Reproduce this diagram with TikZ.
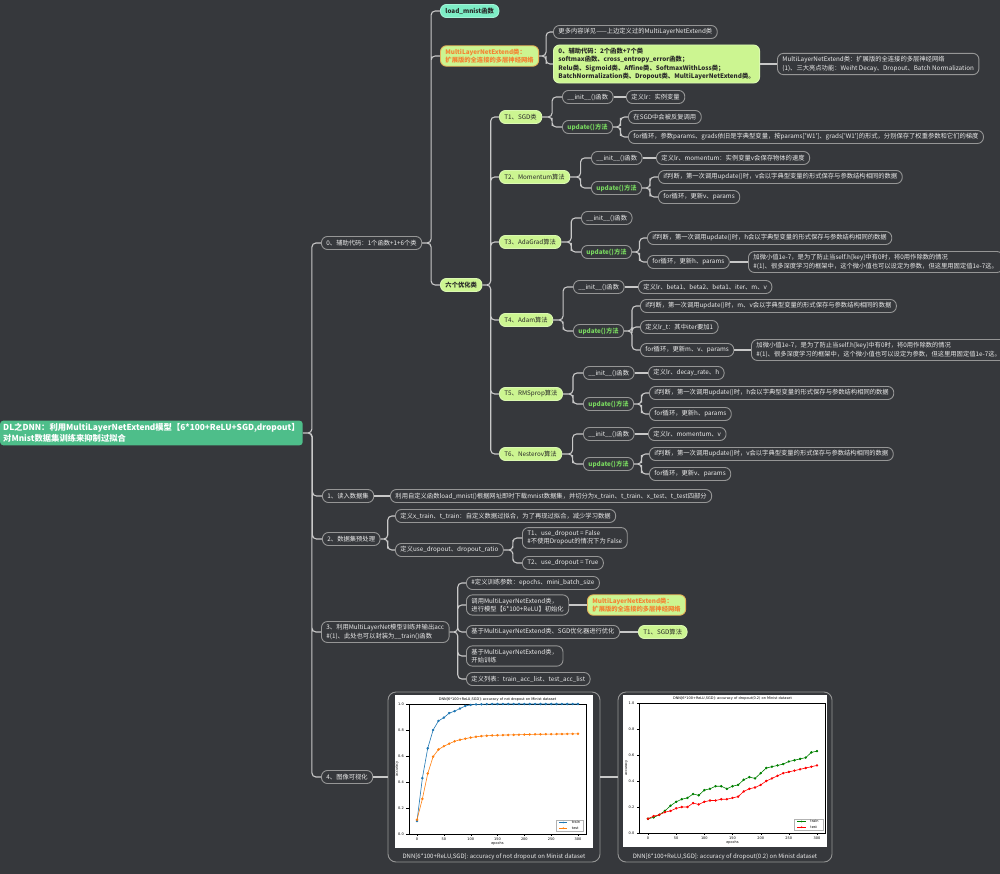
\documentclass[tikz,border=0pt]{standalone}
\usepackage{fontspec}
\setmainfont{Noto Sans CJK SC}
\newfontfamily\plotfont{DejaVu Sans}
\usetikzlibrary{calc}

\definecolor{bgdark}{RGB}{54,56,60}
\definecolor{linegray}{RGB}{200,200,200}
\definecolor{boxgray}{RGB}{150,150,150}
\definecolor{nodewhite}{RGB}{235,235,235}
\definecolor{rootgreen}{RGB}{78,190,138}
\definecolor{mint}{RGB}{125,238,198}
\definecolor{lightgreen}{RGB}{204,245,145}
\definecolor{orangetext}{RGB}{245,130,50}
\definecolor{methodgreen}{RGB}{120,215,95}
\definecolor{darktext}{RGB}{40,40,40}
\definecolor{mplblue}{RGB}{31,119,180}
\definecolor{mplorange}{RGB}{255,127,14}
\definecolor{mplgreen}{RGB}{0,128,0}

\begin{document}
\begin{tikzpicture}[x=1pt, y=-1pt,
  darknode/.style={draw=boxgray, fill=bgdark, text=nodewhite, rounded corners=6pt,
                   line width=0.9pt, anchor=west, align=left, inner xsep=5pt, inner ysep=3pt,
                   minimum height=13pt, font=\fontsize{6.3}{8.4}\selectfont},
  methodnode/.style={darknode, text=methodgreen, font=\bfseries\fontsize{6.3}{8.4}\selectfont},
  greennode/.style={darknode, draw=lightgreen!70!white, fill=lightgreen, text=darktext},
  boldgreennode/.style={greennode, font=\bfseries\fontsize{6.3}{8.4}\selectfont},
  classnode/.style={boldgreennode, draw=orangetext!60!lightgreen, text=orangetext},
  mintnode/.style={boldgreennode, draw=mint!70!white, fill=mint},
  rootnode/.style={fill=rootgreen, text=white, rounded corners=3pt, anchor=west, align=left,
                   inner xsep=3pt, inner ysep=3pt, font=\bfseries\fontsize{8.3}{10.5}\selectfont},
  imgnode/.style={draw=boxgray, fill=bgdark, rounded corners=8pt, line width=0.9pt},
  captext/.style={text=nodewhite, font=\fontsize{6}{7}\selectfont},
  straightline/.style={draw=linegray, line width=1.1pt},
  branchline/.style={straightline, rounded corners=4pt,
    to path={(\tikztostart.east) -| ($(\tikztostart.east)!0.5!(\tikztotarget.west)$) |- (\tikztotarget.west)}},
]
\fill[bgdark] (0,0) rectangle (1000,874);
\useasboundingbox (0,0) rectangle (1000,874);

% ── Root ───────────────────────────────────────────────────────────────
\node[rootnode] (root) at (0,433) {DL之DNN：利用MultiLayerNetExtend模型【6*100+ReLU+SGD,dropout】\\对Mnist数据集训练来抑制过拟合};

% ── 0: auxiliary code ─────────────────────────────────────────────────
\node[darknode] (aux)  at (321,243) {0、辅助代码：1个函数+1+6个类};
\node[mintnode] (load) at (440,11)  {load\_mnist函数};
\node[classnode] (mlne) at (440,56) {MultiLayerNetExtend类：\\扩展版的全连接的多层神经网络};
\node[darknode] (mlneMore) at (553,32) {更多内容详见——上边定义过的MultiLayerNetExtend类};
\node[boldgreennode] (mlneAux) at (553,64) {0、辅助代码：2个函数+7个类\\softmax函数、cross\_entropy\_error函数；\\Relu类、Sigmoid类、Affine类、SoftmaxWithLoss类；\\BatchNormalization类、Dropout类、MultiLayerNetExtend类。};
\node[darknode] (mlneNote) at (777,64) {MultiLayerNetExtend类：扩展版的全连接的多层神经网络\\(1)、三大亮点功能：Weiht Decay、Dropout、Batch Normalization};
\node[boldgreennode] (opt) at (440,285) {六个优化类};

% ── T1 SGD ─────────────────────────────────────────────────────────────
\node[greennode]  (sgd)      at (499,117) {T1、SGD类};
\node[darknode]   (sgdInit)  at (562,97)  {\_\_init\_\_()函数};
\node[darknode]   (sgdInitV) at (626,97)  {定义lr：实例变量};
\node[methodnode] (sgdUpd)   at (562,127) {update()方法};
\node[darknode]   (sgdUpdA)  at (628,117) {在SGD中会被反复调用};
\node[darknode]   (sgdUpdB)  at (628,137) {for循环，参数params、grads依旧是字典型变量，按params[\textquotesingle W1\textquotesingle]、grads[\textquotesingle W1\textquotesingle]的形式，分别保存了权重参数和它们的梯度};

% ── T2 Momentum ────────────────────────────────────────────────────────
\node[greennode]  (mom)      at (499,177) {T2、Momentum算法};
\node[darknode]   (momInit)  at (591,158) {\_\_init\_\_()函数};
\node[darknode]   (momInitV) at (656,158) {定义lr、momentum：实例变量v会保存物体的速度};
\node[methodnode] (momUpd)   at (591,188) {update()方法};
\node[darknode]   (momUpdA)  at (658,177) {if判断，第一次调用update()时，v会以字典型变量的形式保存与参数结构相同的数据};
\node[darknode]   (momUpdB)  at (658,197) {for循环，更新v、params};

% ── T3 AdaGrad ─────────────────────────────────────────────────────────
\node[greennode]  (ada)      at (499,242) {T3、AdaGrad算法};
\node[darknode]   (adaInit)  at (581,218) {\_\_init\_\_()函数};
\node[methodnode] (adaUpd)   at (581,252) {update()方法};
\node[darknode]   (adaUpdA)  at (647,238) {if判断，第一次调用update()时，h会以字典型变量的形式保存与参数结构相同的数据};
\node[darknode]   (adaUpdB)  at (647,262) {for循环，更新h、params};
\node[darknode]   (adaNote)  at (748,262) {加微小值1e-7，是为了防止当self.h[key]中有0时，将0用作除数的情况\\\#(1)、很多深度学习的框架中，这个微小值也可以设定为参数，但这里用固定值1e-7这。};

% ── T4 Adam ────────────────────────────────────────────────────────────
\node[greennode]  (adam)      at (499,320) {T4、Adam算法};
\node[darknode]   (adamInit)  at (573,287) {\_\_init\_\_()函数};
\node[darknode]   (adamInitV) at (638,287) {定义lr、beta1、beta2、beta1、iter、m、v};
\node[methodnode] (adamUpd)   at (573,331) {update()方法};
\node[darknode]   (adamUpdA)  at (640,306) {if判断，第一次调用update()时，m、v会以字典型变量的形式保存与参数结构相同的数据};
\node[darknode]   (adamUpdB)  at (640,327) {定义lr\_t：其中iter要加1};
\node[darknode]   (adamUpdC)  at (640,350) {for循环，更新m、v、params};
\node[darknode]   (adamNote)  at (751,350) {加微小值1e-7，是为了防止当self.h[key]中有0时，将0用作除数的情况\\\#(1)、很多深度学习的框架中，这个微小值也可以设定为参数，但这里用固定值1e-7这。};

% ── T5 RMSprop ─────────────────────────────────────────────────────────
\node[greennode]  (rms)      at (499,394) {T5、RMSprop算法};
\node[darknode]   (rmsInit)  at (583,373) {\_\_init\_\_()函数};
\node[darknode]   (rmsInitV) at (648,373) {定义lr、decay\_rate、h};
\node[methodnode] (rmsUpd)   at (583,404) {update()方法};
\node[darknode]   (rmsUpdA)  at (649,393) {if判断，第一次调用update()时，h会以字典型变量的形式保存与参数结构相同的数据};
\node[darknode]   (rmsUpdB)  at (649,414) {for循环，更新h、params};

% ── T6 Nesterov ────────────────────────────────────────────────────────
\node[greennode]  (nes)      at (499,454) {T6、Nesterov算法};
\node[darknode]   (nesInit)  at (583,434) {\_\_init\_\_()函数};
\node[darknode]   (nesInitV) at (648,434) {定义lr、momentum、v};
\node[methodnode] (nesUpd)   at (583,464) {update()方法};
\node[darknode]   (nesUpdA)  at (649,454) {if判断，第一次调用update()时，v会以字典型变量的形式保存与参数结构相同的数据};
\node[darknode]   (nesUpdB)  at (649,474) {for循环，更新v、params};

% ── 1: read data ───────────────────────────────────────────────────────
\node[darknode] (read)  at (322,496) {1、读入数据集};
\node[darknode] (readV) at (390,496) {利用自定义函数load\_mnist()根据网址即时下载mnist数据集，并切分为x\_train、t\_train、x\_test、t\_test四部分};

% ── 2: preprocessing ───────────────────────────────────────────────────
\node[darknode] (prep)   at (322,539) {2、数据集预处理};
\node[darknode] (prepA)  at (395,516) {定义x\_train、t\_train：自定义数据过拟合，为了再现过拟合，减少学习数据};
\node[darknode] (prepB)  at (395,550) {定义use\_dropout、dropout\_ratio};
\node[darknode] (prepBa) at (522,538) {T1、use\_dropout = False\\\#不使用Dropout的情况下为 False};
\node[darknode] (prepBb) at (522,563) {T2、use\_dropout = True};

% ── 3: training ────────────────────────────────────────────────────────
\node[darknode] (train)   at (321,632) {3、利用MultiLayerNet模型训练并输出acc\\\#(1)、此处也可以封装为\_\_train()函数};
\node[darknode] (trainA)  at (466,583) {\#定义训练参数：epochs、mini\_batch\_size};
\node[darknode] (trainB)  at (466,605) {调用MultiLayerNetExtend类，\\进行模型【6*100+ReLU】初始化};
\node[classnode] (trainBN) at (587,605) {MultiLayerNetExtend类：\\扩展版的全连接的多层神经网络};
\node[darknode] (trainC)  at (466,632) {基于MultiLayerNetExtend类、SGD优化器进行优化};
\node[greennode] (trainCN) at (638,632) {T1、SGD算法};
\node[darknode] (trainD)  at (466,656) {基于MultiLayerNetExtend类，\\开始训练};
\node[darknode] (trainE)  at (466,679) {定义列表：train\_acc\_list、test\_acc\_list};

% ── 4: visualisation ───────────────────────────────────────────────────
\node[darknode] (vis) at (321,777) {4、图像可视化};
\node[imgnode, minimum width=212pt, minimum height=170pt] (imgA) at (494,777) {};
\node[imgnode, minimum width=214pt, minimum height=170pt] (imgB) at (725,777) {};
\node[captext] (capA) at (494,857) {DNN[6*100+ReLU,SGD]: accuracy of not dropout on Minist dataset};
\node[captext] (capB) at (725,857) {DNN[6*100+ReLU,SGD]: accuracy of dropout(0.2) on Minist dataset};

% ── Connectors ─────────────────────────────────────────────────────────
\draw[branchline] (root) to (aux) (root) to (read) (root) to (prep) (root) to (train) (root) to (vis);
\draw[branchline] (aux) to (load) (aux) to (mlne) (aux) to (opt);
\draw[branchline] (mlne) to (mlneMore) (mlne) to (mlneAux);
\draw[branchline] (opt) to (sgd) (opt) to (mom) (opt) to (ada) (opt) to (adam) (opt) to (rms) (opt) to (nes);
\draw[branchline] (sgd) to (sgdInit) (sgd) to (sgdUpd) (sgdUpd) to (sgdUpdA) (sgdUpd) to (sgdUpdB);
\draw[branchline] (mom) to (momInit) (mom) to (momUpd) (momUpd) to (momUpdA) (momUpd) to (momUpdB);
\draw[branchline] (ada) to (adaInit) (ada) to (adaUpd) (adaUpd) to (adaUpdA) (adaUpd) to (adaUpdB);
\draw[branchline] (adam) to (adamInit) (adam) to (adamUpd) (adamUpd) to (adamUpdA) (adamUpd) to (adamUpdB) (adamUpd) to (adamUpdC);
\draw[branchline] (rms) to (rmsInit) (rms) to (rmsUpd) (rmsUpd) to (rmsUpdA) (rmsUpd) to (rmsUpdB);
\draw[branchline] (nes) to (nesInit) (nes) to (nesUpd) (nesUpd) to (nesUpdA) (nesUpd) to (nesUpdB);
\draw[branchline] (prep) to (prepA) (prep) to (prepB) (prepB) to (prepBa) (prepB) to (prepBb);
\draw[branchline] (train) to (trainA) (train) to (trainB) (train) to (trainC) (train) to (trainD) (train) to (trainE);

% same-level links
\draw[straightline] (mlneAux.east) -- (mlneNote.west);
\draw[straightline] (sgdInit.east) -- (sgdInitV.west);
\draw[straightline] (momInit.east) -- (momInitV.west);
\draw[straightline] (adaUpdB.east) -- (adaNote.west);
\draw[straightline] (adamInit.east) -- (adamInitV.west);
\draw[straightline] (adamUpdC.east) -- (adamNote.west);
\draw[straightline] (rmsInit.east) -- (rmsInitV.west);
\draw[straightline] (nesInit.east) -- (nesInitV.west);
\draw[straightline] (read.east) -- (readV.west);
\draw[straightline] (trainB.east) -- (trainBN.west);
\draw[straightline] (trainC.east) -- (trainCN.west);
\draw[straightline] (vis.east) -- (imgA.west);
\draw[straightline] (imgA.east) -- (imgB.west);

% ── Chart A: without dropout ──────────────────────────────────────────
\fill[white] (395,695) rectangle (593,848);
\begin{scope}[shift={(417,834)}, x=0.5367pt, y=130pt, font=\plotfont\fontsize{3.5}{4}\selectfont]
  \draw[line width=0.3pt] (-15,0) rectangle (315,1);
  \foreach \t in {0,50,...,300} \draw[line width=0.3pt] (\t,0) -- (\t,-0.012) node[below=-1pt] {\t};
  \foreach \v in {0.0,0.2,0.4,0.6,0.8,1.0} \draw[line width=0.3pt] (-15,\v) -- (-20,\v) node[left=-1pt] {\v};
  \node[above=-1pt] at (150,1) {DNN[6*100+ReLU,SGD]: accuracy of not dropout on Minist dataset};
  \node at (150,-0.075) {epochs};
  \node[rotate=90] at (-37,0.5) {accuracy};
  \draw[mplblue, line width=0.6pt] plot[mark=*, mark size=0.9pt] coordinates {
    (0,0.10) (10,0.43) (20,0.66) (30,0.80) (40,0.87) (50,0.895) (60,0.93) (70,0.945)
    (80,0.965) (90,0.985) (100,0.993) (110,0.997) (120,0.998) (130,0.999) (140,1) (150,1)
    (160,1) (170,1) (180,1) (190,1) (200,1) (210,1) (220,1) (230,1) (240,1) (250,1)
    (260,1) (270,1) (280,1) (290,1) (300,1)};
  \draw[mplorange, line width=0.6pt] plot[mark=*, mark size=0.9pt] coordinates {
    (0,0.11) (10,0.27) (20,0.465) (30,0.595) (40,0.65) (50,0.675) (60,0.695) (70,0.713)
    (80,0.725) (90,0.733) (100,0.742) (110,0.748) (120,0.753) (130,0.756) (140,0.758)
    (150,0.760) (160,0.761) (170,0.762) (180,0.763) (190,0.764) (200,0.765) (210,0.766)
    (220,0.767) (230,0.767) (240,0.768) (250,0.768) (260,0.769) (270,0.769) (280,0.770)
    (290,0.770) (300,0.771)};
  \draw[line width=0.2pt, draw=black!30, fill=white] (260,0.02) rectangle (310,0.11);
  \draw[mplblue, line width=0.6pt] (265,0.088) -- (280,0.088);
  \fill[mplblue] (272.5,0.088) circle (0.9pt);
  \node[right=0pt] at (282,0.088) {train};
  \draw[mplorange, line width=0.6pt] (265,0.045) -- (280,0.045);
  \fill[mplorange] (272.5,0.045) circle (0.9pt);
  \node[right=0pt] at (282,0.045) {test};
\end{scope}

% ── Chart B: dropout 0.2 ───────────────────────────────────────────────
\fill[white] (623,695) rectangle (827,847);
\begin{scope}[shift={(648,833)}, x=0.5633pt, y=130pt, font=\plotfont\fontsize{3.5}{4}\selectfont]
  \draw[line width=0.3pt] (-15,0) rectangle (315,1);
  \foreach \t in {0,50,...,300} \draw[line width=0.3pt] (\t,0) -- (\t,-0.012) node[below=-1pt] {\t};
  \foreach \v in {0.0,0.2,0.4,0.6,0.8,1.0} \draw[line width=0.3pt] (-15,\v) -- (-20,\v) node[left=-1pt] {\v};
  \node[above=-1pt] at (150,1) {DNN[6*100+ReLU,SGD]: accuracy of dropout(0.2) on Minist dataset};
  \node at (150,-0.075) {epochs};
  \node[rotate=90] at (-38,0.5) {accuracy};
  \draw[mplgreen, line width=0.6pt] plot[mark=*, mark size=0.9pt] coordinates {
    (0,0.11) (10,0.12) (20,0.14) (30,0.17) (40,0.21) (50,0.24) (60,0.26) (70,0.27)
    (80,0.30) (90,0.29) (100,0.33) (110,0.34) (120,0.36) (130,0.36) (140,0.34) (150,0.36)
    (160,0.37) (170,0.41) (180,0.43) (190,0.42) (200,0.46) (210,0.50) (220,0.51) (230,0.52)
    (240,0.53) (250,0.55) (260,0.56) (270,0.57) (280,0.58) (290,0.62) (300,0.63)};
  \draw[red, line width=0.6pt] plot[mark=*, mark size=0.9pt] coordinates {
    (0,0.11) (10,0.13) (20,0.14) (30,0.16) (40,0.17) (50,0.19) (60,0.20) (70,0.20)
    (80,0.23) (90,0.22) (100,0.24) (110,0.25) (120,0.25) (130,0.26) (140,0.26) (150,0.27)
    (160,0.28) (170,0.32) (180,0.34) (190,0.35) (200,0.37) (210,0.40) (220,0.42) (230,0.44)
    (240,0.46) (250,0.47) (260,0.48) (270,0.49) (280,0.50) (290,0.51) (300,0.52)};
  \draw[line width=0.2pt, draw=black!30, fill=white] (260,0.02) rectangle (310,0.11);
  \draw[mplgreen, line width=0.6pt] (265,0.088) -- (280,0.088);
  \fill[mplgreen] (272.5,0.088) circle (0.9pt);
  \node[right=0pt] at (282,0.088) {train};
  \draw[red, line width=0.6pt] (265,0.045) -- (280,0.045);
  \fill[red] (272.5,0.045) circle (0.9pt);
  \node[right=0pt] at (282,0.045) {test};
\end{scope}

\end{tikzpicture}
\end{document}
